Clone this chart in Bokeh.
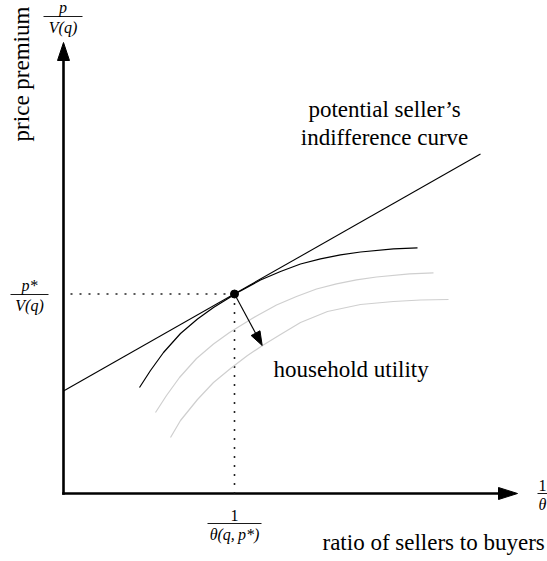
import math
from bokeh.plotting import figure
from bokeh.models import Range1d
from bokeh.core.properties import value
from bokeh.embed import file_html
from bokeh.resources import INLINE

# ---- diagram values (origin = corner of the two axes, units = px) ----
axis_x_end = 454
axis_y_end = 451

tangent_x = [0, 417]
tangent_y = [102.5, 339.5]

eq_x = 171
eq_y = 199.5

# household indifference curve through the equilibrium (black)
curve_x = [76, 87, 100, 117, 134, 150, 167, 171, 177, 197, 217, 237, 257, 277, 297, 330, 354]
curve_y = [106, 123, 141, 160, 174.5, 186, 196.5, 199.5, 202.5, 213.5, 222, 229.5, 234.7, 238.7, 241.5, 244.7, 245.7]

# lower utility curves (grey)
gray1_x = [92, 103, 116, 133, 150, 166, 183, 187, 193, 213, 233, 253, 273, 293, 313, 346, 370]
gray1_y = [81, 98, 116, 135, 149.5, 161, 171.5, 174, 177.5, 188.5, 197, 204.5, 209.7, 213.7, 216.5, 219.7, 220.7]

gray2_x = [107, 117, 134, 150, 167, 184, 199, 217, 237, 264, 297, 330, 357, 385]
gray2_y = [56, 73, 94, 111, 125, 138, 148, 159, 171, 182, 189, 192, 193.5, 194]

# direction of improving utility
util_tip_x = 198.7
util_tip_y = 148

W, H = 547, 561
p = figure(width=W, height=H, output_backend="svg", toolbar_location=None,
           x_range=Range1d(-63, -63 + W), y_range=Range1d(493 - H, 493),
           x_axis_type=None, y_axis_type=None, min_border=0)
p.outline_line_color = None
p.xgrid.visible = False
p.ygrid.visible = False
p.background_fill_color = "white"
p.border_fill_color = "white"


def head(tx, ty, fx, fy, length, half):
    d = math.hypot(tx - fx, ty - fy)
    ux, uy = (tx - fx) / d, (ty - fy) / d
    bx, by = tx - ux * length, ty - uy * length
    nx, ny = -uy, ux
    return [tx, bx + nx * half, bx - nx * half], [ty, by + ny * half, by - ny * half], (bx, by)


# axes
hx, hy, yb = head(0, axis_y_end, 0, 0, 18, 6)
p.line([0, 0], [-1.3, yb[1] + 1], line_color="black", line_width=2.6)
p.patch(hx, hy, fill_color="black", line_color="black", line_width=1)
hx, hy, xb = head(axis_x_end, 0, 0, 0, 19, 6)
p.line([-1.3, xb[0] + 1], [0, 0], line_color="black", line_width=2.6)
p.patch(hx, hy, fill_color="black", line_color="black", line_width=1)

# dotted guides
p.line([eq_x, 0], [eq_y, eq_y], line_color="#222222", line_width=1.6, line_dash="2 7")
p.line([eq_x, eq_x], [eq_y, 0], line_color="#222222", line_width=1.6, line_dash="2 7")

# curves
p.line(gray2_x, gray2_y, line_color="#cfcfcf", line_width=1.2)
p.line(gray1_x, gray1_y, line_color="#cfcfcf", line_width=1.2)
p.line(curve_x, curve_y, line_color="black", line_width=1.2)
p.line(tangent_x, tangent_y, line_color="black", line_width=1.1)

# utility arrow
hx, hy, ub = head(util_tip_x, util_tip_y, eq_x, eq_y, 14, 5)
p.line([eq_x, ub[0]], [eq_y, ub[1]], line_color="black", line_width=1.1)
p.patch(hx, hy, fill_color="black", line_color="black", line_width=1)

p.scatter([eq_x], [eq_y], size=8, marker="circle", fill_color="black", line_color="black")

# ---- texts ----
serif = value("Liberation Serif")
p.text(x=[321, 321], y=[384, 356], text=["potential seller\u2019s", "indifference curve"],
       text_font=serif, text_font_size="23px", text_align="center",
       text_baseline="alphabetic", text_color="black")
p.text(x=[210], y=[124], text=["household utility"], text_font=serif,
       text_font_size="23px", text_align="left", text_baseline="alphabetic", text_color="black")
p.text(x=[259], y=[-49], text=["ratio of sellers to buyers"], text_font=serif,
       text_font_size="23px", text_align="left", text_baseline="alphabetic", text_color="black")
p.text(x=[-42], y=[419.5], text=["price premium"], text_font=serif, angle=math.pi / 2,
       text_font_size="23px", text_align="center", text_baseline="alphabetic", text_color="black")

# fractions: (centre x, bar y, half bar width, numerator, denominator)
fracs = [
    (-0.5, 477, 19.5, "p", "V(q)"),
    (-34, 199, 19, "p*", "V(q)"),
    (171, -30, 27, "1", "\u03b8(q,\u2009p*)"),
    (479, 0, 5, "1", "\u03b8"),
]
for cx, by, hw, num, den in fracs:
    p.line([cx - hw, cx + hw], [by, by], line_color="black", line_width=0.9)
    if num == "1":
        p.text(x=[cx], y=[by + 2.5], text=[num], text_font=serif, text_font_size="16px",
               text_align="center", text_baseline="bottom", text_color="black")
    else:
        p.text(x=[cx], y=[by + 1], text=[num], text_font=serif, text_font_size="16px",
               text_font_style="italic", text_align="center", text_baseline="bottom", text_color="black")
    p.text(x=[cx], y=[by - 2], text=[den], text_font=serif, text_font_size="16px",
           text_font_style="italic", text_align="center", text_baseline="top", text_color="black")

open("out.html", "w").write(file_html(p, INLINE))
